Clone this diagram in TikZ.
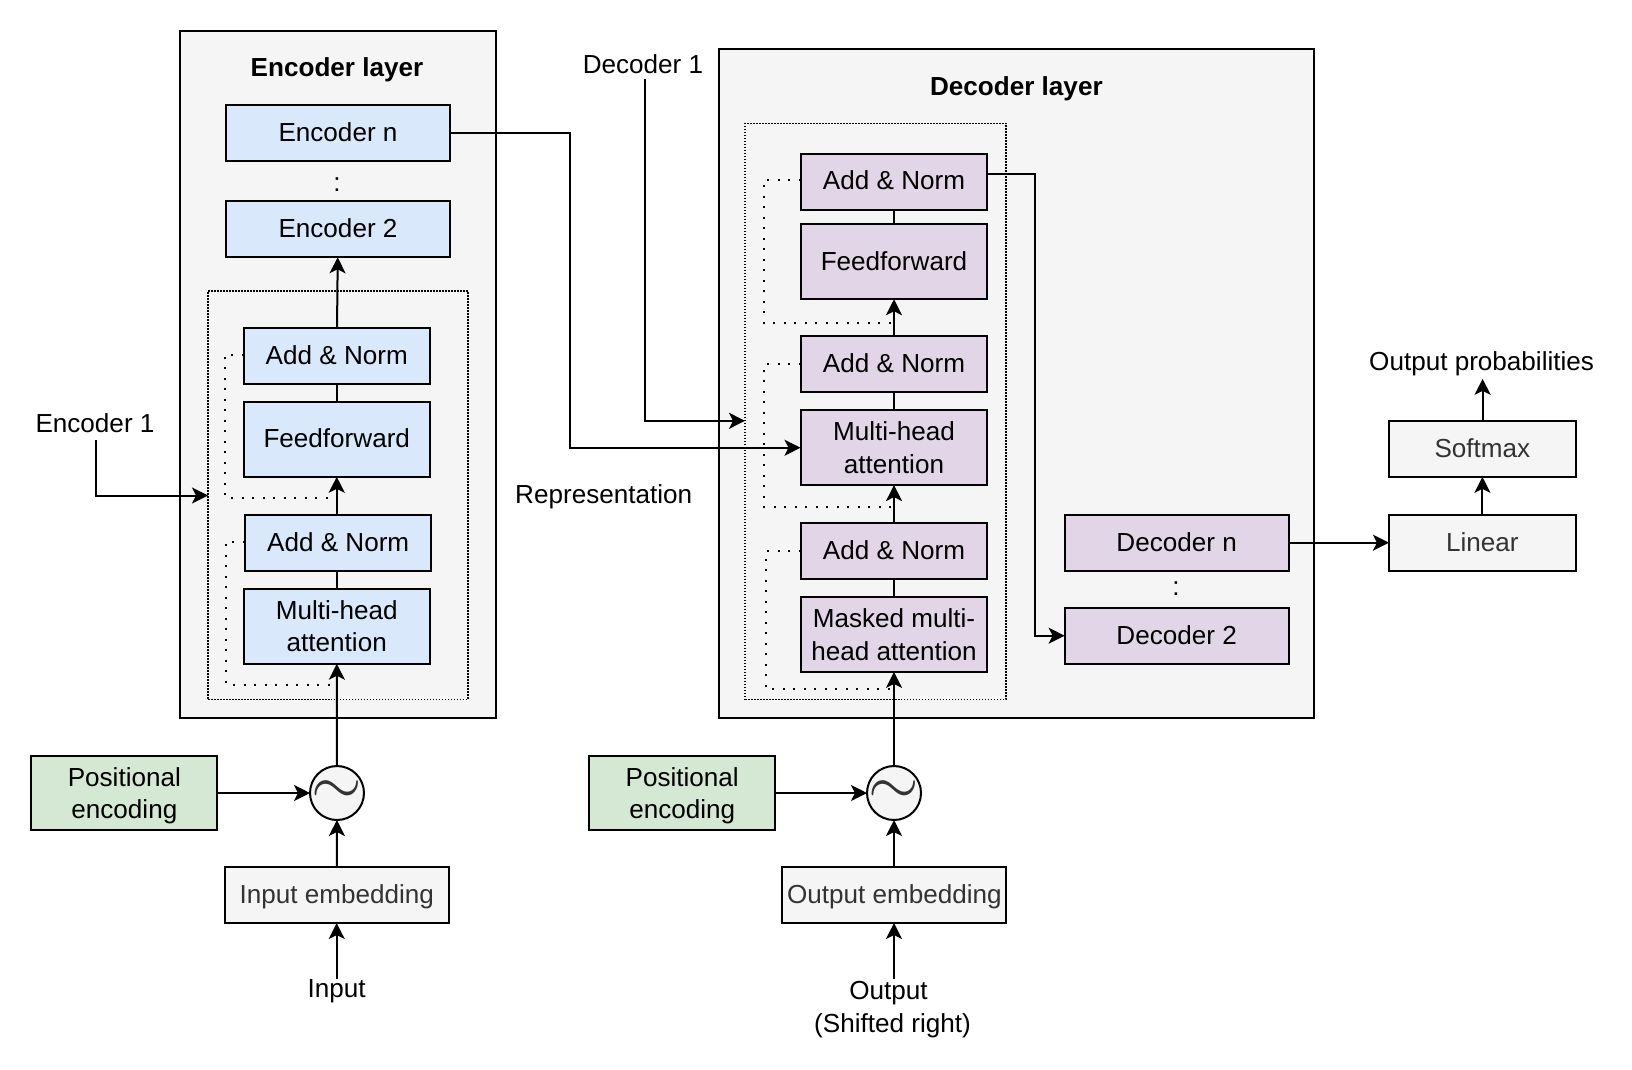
\documentclass[tikz,border=0pt]{standalone}
\usepackage{fontspec}
\setmainfont{Liberation Sans}
\usetikzlibrary{arrows.meta}

\definecolor{encblue}{HTML}{DAE8FC}
\definecolor{decpurple}{HTML}{E1D5E7}
\definecolor{posgreen}{HTML}{D5E8D4}
\definecolor{layergrey}{HTML}{F5F5F5}
\definecolor{greytext}{HTML}{333333}

\tikzset{
  lbl/.style={inner sep=0pt, outer sep=0pt, align=center, font=\fontsize{14.85}{18.4}\selectfont, text height=0.5cm, text depth=0.168cm},
  twoline/.style={text height=, text depth=},
  layerbox/.style={draw=black, fill=layergrey, line width=0.04cm, inner sep=0pt, outer sep=0pt},
  groupbox/.style={draw=black, line width=0.025cm, dash pattern=on 0.03cm off 0.03cm, inner sep=0pt, outer sep=0pt},
  blockbox/.style={lbl, draw=black, line width=0.04cm, minimum height=1.12cm},
  encbox/.style={blockbox, fill=encblue, minimum width=3.73cm},
  decbox/.style={blockbox, fill=decpurple, minimum width=3.74cm},
  stackbox/.style={minimum width=4.48cm},
  tallbox/.style={minimum height=1.495cm},
  posbox/.style={blockbox, fill=posgreen, minimum width=3.72cm, tallbox, twoline},
  greybox/.style={blockbox, fill=layergrey, text=greytext, minimum width=3.74cm},
  mixer/.style={circle, draw=black, fill=layergrey, text=greytext, line width=0.04cm, minimum size=1.08cm, inner sep=0pt, outer sep=0pt},
  wire/.style={line width=0.04cm},
  flow/.style={wire, -{Stealth[length=0.32cm, width=0.32cm, inset=0.08cm]}},
  residual/.style={line width=0.04cm, dash pattern=on 0.04cm off 0.17cm},
}

\begin{document}
\begin{tikzpicture}[x=0.02cm, y=-0.02cm]
\useasboundingbox (0,0) rectangle (1632,1069);

% encoder side
\node[layerbox, minimum width=6.32cm, minimum height=13.756cm] (enc_layer) at (338,374.5) {};
\node[lbl, font=\fontsize{14.85}{18.4}\selectfont\bfseries] (enc_title) at (337,68.4) {Encoder layer};
\node[encbox, stackbox] (enc_n) at (338,132.9) {Encoder n};
\node[lbl] (enc_dots) at (337,183) {:};
\node[encbox, stackbox] (enc_2) at (338,229.3) {Encoder 2};
\node[groupbox, minimum width=5.2cm, minimum height=8.176cm] (enc_group) at (338,495.4) {};
\node[encbox] (enc_norm_ff) at (336.75,355.7) {Add \& Norm};
\node[encbox, tallbox] (enc_ff) at (336.75,439.4) {Feedforward};
\node[encbox] (enc_norm_attn) at (338.2,542.7) {Add \& Norm};
\node[encbox, tallbox, twoline] (enc_attn) at (336.75,626.35) {Multi-head\\attention};
\node[posbox] (enc_pos) at (124.35,793) {Positional\\\smash{encoding}};
\node[mixer] (enc_mix) at (337,793) {\makebox[0pt]{\scalebox{3.7}{$\sim$}}};
\node[greybox, stackbox] (enc_embed) at (336.7,895) {Input embedding};
\node[lbl] (input) at (336.7,989.3) {Input};
\node[lbl] (enc_first) at (95,424.6) {Encoder 1};

% decoder side
\node[layerbox, minimum width=11.906cm, minimum height=13.384cm] (dec_layer) at (1016.85,383.8) {};
\node[lbl, font=\fontsize{14.85}{18.4}\selectfont\bfseries] (dec_title) at (1016.4,87.3) {Decoder layer};
\node[groupbox, minimum width=5.22cm, minimum height=11.53cm] (dec_group) at (875.5,411.55) {};
\node[decbox] (dec_norm_ff) at (894,181.65) {Add \& Norm};
\node[decbox, tallbox] (dec_ff) at (894,261.85) {Feedforward};
\node[decbox] (dec_norm_attn) at (894,363.8) {Add \& Norm};
\node[decbox, tallbox, twoline] (dec_attn) at (894,447.7) {Multi-head\\attention};
\node[decbox] (dec_norm_mask) at (894,550.75) {Add \& Norm};
\node[decbox, tallbox, twoline] (dec_mask) at (894,634.5) {Masked multi-\\head attention};
\node[decbox, stackbox] (dec_n) at (1176.6,542.7) {Decoder n};
\node[lbl] (dec_dots) at (1176,587) {:};
\node[decbox, stackbox] (dec_2) at (1176.6,635.7) {Decoder 2};
\node[posbox] (dec_pos) at (682.2,793) {Positional\\\smash{encoding}};
\node[mixer] (dec_mix) at (894,793) {\makebox[0pt]{\scalebox{3.7}{$\sim$}}};
\node[greybox, stackbox] (dec_embed) at (894.4,895) {Output embedding};
\node[lbl, twoline] (output) at (892.5,1009.6) {Output\hspace{0.16cm}\null\\(Shifted right)};
\node[lbl] (dec_first) at (643,64.7) {Decoder 1};
\node[lbl] (repr) at (603.7,495.1) {Representation};

% output side
\node[greybox] (linear) at (1482.4,542.7) {Linear};
\node[greybox] (softmax) at (1482.4,448.85) {Softmax};
\node[lbl] (probs) at (1481.6,361.9) {Output probabilities};

\coordinate (probs_end) at (1482.6,378.8);
\coordinate (input_start) at (336.7,978.6);
\coordinate (output_start) at (894,978.6);
\coordinate (enc_first_start) at (96.3,440);
\coordinate (dec_first_start) at (644.8,79);
\coordinate (enc_res_ff) at (336.75,497.6);
\coordinate (enc_res_attn) at (336.75,684.7);
\coordinate (dec_res_ff) at (894,323);
\coordinate (dec_res_attn) at (894,506.9);
\coordinate (dec_res_mask) at (894,688.8);

% connectors
\draw[flow] (input_start) -- (enc_embed);
\draw[flow] (enc_embed) -- (enc_mix);
\draw[flow] (enc_pos) -- (enc_mix);
\draw[flow] (enc_mix) -- (enc_attn);
\draw[wire] (enc_attn) -- (enc_norm_attn.south -| enc_attn);
\draw[flow] (enc_norm_attn.north -| enc_ff) -- (enc_ff);
\draw[wire] (enc_ff) -- (enc_norm_ff);
\draw[flow] (enc_norm_ff) -- (enc_2);
\draw[flow] (enc_first_start) |- (enc_group.west |- 0,495.5);
\draw[flow] (output_start) -- (dec_embed.south -| output_start);
\draw[flow] (dec_embed.north -| dec_mix) -- (dec_mix);
\draw[flow] (dec_pos) -- (dec_mix);
\draw[flow] (dec_mix) -- (dec_mask);
\draw[wire] (dec_mask) -- (dec_norm_mask);
\draw[flow] (dec_norm_mask) -- (dec_attn);
\draw[wire] (dec_attn) -- (dec_norm_attn);
\draw[flow] (dec_norm_attn) -- (dec_ff);
\draw[wire] (dec_ff) -- (dec_norm_ff);
\draw[flow] (dec_first_start) |- (dec_group.west |- 0,420.8);
\draw[flow] (enc_n) -- (570.4,132.9) -- (570.4,447.7) -- (dec_attn);
\draw[flow] (dec_norm_ff.east |- 0,173.9) -- (1035,173.9) |- (dec_2);
\draw[flow] (dec_n) -- (linear);
\draw[flow] (linear) -- (softmax);
\draw[flow] (softmax.north -| probs_end) -- (probs_end);

% residual paths
\draw[residual] (enc_norm_ff.west |- 0,354.7) -- (224.8,354.7) |- (enc_res_ff);
\draw[residual] (enc_norm_attn.west |- 0,542) -- (226.4,542) |- (enc_res_attn);
\draw[residual] (dec_norm_ff.west |- 0,180) -- (764,180) |- (dec_res_ff);
\draw[residual] (dec_norm_attn.west |- 0,364.3) -- (764,364.3) |- (dec_res_attn);
\draw[residual] (dec_norm_mask.west |- 0,551.3) -- (766,551.3) |- (dec_res_mask);

\end{tikzpicture}
\end{document}
